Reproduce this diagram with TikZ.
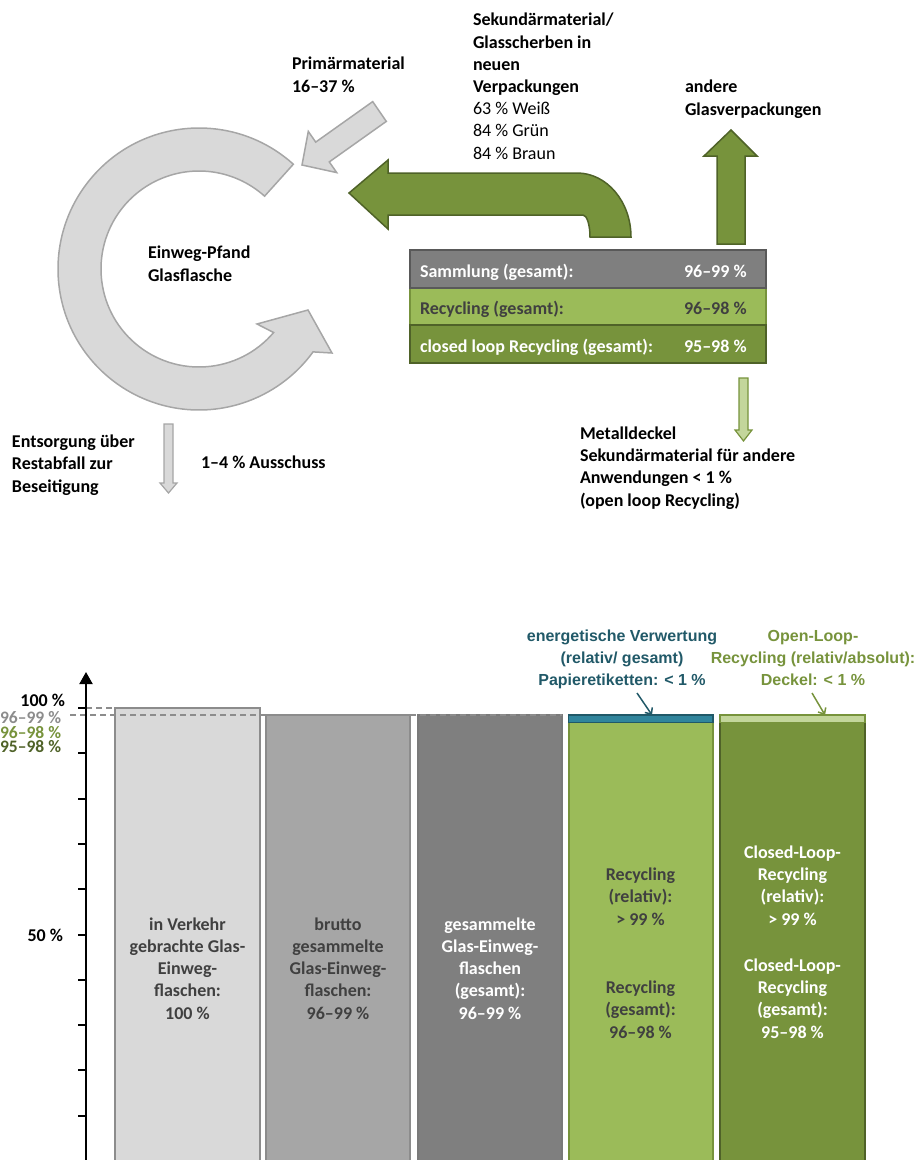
\documentclass[tikz,border=0pt]{standalone}
\usepackage{fontspec}
\setmainfont{Carlito}
\newfontfamily\arialfont{Liberation Sans}
\usetikzlibrary{arrows.meta, calc}

\definecolor{ringfill}{HTML}{D9D9D9}
\definecolor{ringdraw}{HTML}{A6A6A6}
\definecolor{grayA}{HTML}{A6A6A6}
\definecolor{grayB}{HTML}{7F7F7F}
\definecolor{grayC}{HTML}{8C8C8C}
\definecolor{grayD}{HTML}{595959}
\definecolor{textgray}{HTML}{404040}
\definecolor{olive}{HTML}{77933C}
\definecolor{olivedark}{HTML}{4F6228}
\definecolor{lime}{HTML}{9BBB59}
\definecolor{limepale}{HTML}{C3D69B}
\definecolor{teal}{HTML}{31859C}
\definecolor{tealdark}{HTML}{215968}

\begin{document}
\begin{tikzpicture}[x=1pt, y=-1pt,
    every node/.style={inner sep=0pt, outer sep=0pt},
    txt/.style={font=\fontsize{18}{22.3}\selectfont\bfseries, align=left, anchor=base west},
    bartxt/.style={font=\fontsize{18}{22.2}\selectfont\bfseries, align=center, anchor=base},
    note/.style={font=\arialfont\fontsize{16}{21.8}\selectfont\bfseries, align=center, anchor=base},
    ytick/.style={font=\fontsize{18}{20}\selectfont\bfseries, anchor=base east},
    ysmall/.style={font=\fontsize{17.5}{15}\selectfont\bfseries, anchor=base east},
    shapearrow/.style={line width=1.5pt, line join=miter},
    barbox/.style={draw, line width=2pt, anchor=north west, minimum height=470pt},
    rowbox/.style={draw, line width=2pt, anchor=north west, minimum width=356pt, minimum height=37.5pt},
    stripbox/.style={draw, line width=1.5pt, anchor=north west, minimum height=7.5pt},
    guide/.style={dash pattern=on 6pt off 4pt, draw=grayC, line width=1.5pt}
]
\useasboundingbox (0,0) rectangle (919,1160);

% --- Kreislauf oben ---
\filldraw[shapearrow, fill=ringfill, draw=ringdraw]
    ($(199,269)+(-48:141)$) arc[start angle=-48, end angle=-324, radius=141]
    -- (332,353) -- (308,310) -- (257,324)
    -- ($(199,269)+(40.4:98)$) arc[start angle=40.4, end angle=312, radius=98] -- cycle;
\filldraw[shapearrow, fill=ringfill, draw=ringdraw]
    (372.7,101.6) -- (315.7,142.1) -- (308.3,131.4) -- (302,165)
    -- (336.7,172.6) -- (329.3,161.9) -- (386.3,121.4) -- cycle;
\filldraw[shapearrow, fill=olive, draw=olivedark]
    (349,193) -- (388,160) -- (388,173) -- (577,173)
    arc[start angle=-90, end angle=0, x radius=54, y radius=64] -- (590,237)
    arc[start angle=0, end angle=-90, x radius=7, y radius=22]
    -- (388,215) -- (388,229) -- cycle;
\filldraw[shapearrow, fill=olive, draw=olivedark]
    (717,244) -- (717,156) -- (704,156) -- (731,130) -- (757,156) -- (745,156) -- (745,244) -- cycle;
\filldraw[line width=1.2pt, fill=limepale, draw=olive]
    (739,378) -- (748,378) -- (748,430) -- (752,430) -- (743.5,441) -- (735,430) -- (739,430) -- cycle;
\filldraw[line width=1.2pt, fill=ringfill, draw=ringdraw]
    (164,424) -- (173,424) -- (173,483) -- (177,483) -- (168.5,493) -- (160,483) -- (164,483) -- cycle;

\node[rowbox, fill=lime, draw=olive] (recy) at (410,287.5) {};
\node[rowbox, fill=grayB, draw=grayD] (samm) at (410,250) {};
\node[rowbox, fill=olive, draw=olivedark] (clos) at (410,325) {};
\node[txt, text=white] (sammtxt) at (420,277) {Sammlung (gesamt):};
\node[txt, text=white] (sammwert) at (684,277) {96–99 \%};
\node[txt, text=textgray] (recytxt) at (420,314) {Recycling (gesamt):};
\node[txt, text=textgray] (recywert) at (684,314) {96–98 \%};
\node[txt, text=white] (clostxt) at (420,352) {closed loop Recycling (gesamt):};
\node[txt, text=white] (closwert) at (684,352) {95–98 \%};

\node[txt] (primaer) at (292,92) {Primärmaterial\\16–37 \%};
\node[txt, font=\fontsize{18}{22.2}\selectfont] (sekundaer) at (473,159)
    {\textbf{Sekundärmaterial/}\\\textbf{Glasscherben in}\\\textbf{neuen}\\\textbf{Verpackungen}\\63 \% Weiß\\84 \% Grün\\84 \% Braun};
\node[txt] (andere) at (685,115) {andere\\Glasverpackungen};
\node[txt] (flasche) at (148,281) {Einweg-Pfand\\Glasflasche};
\node[txt] (entsorg) at (12,492) {Entsorgung über\\Restabfall zur\\Beseitigung};
\node[txt] (ausschuss) at (201,468) {1–4 \% Ausschuss};
\node[txt] (deckel) at (580,506) {Metalldeckel\\Sekundärmaterial für andere\\Anwendungen < 1 \%\\(open loop Recycling)};

% --- Saeulendiagramm unten ---
\node[barbox, fill=ringfill, draw=grayC, minimum width=145pt] (bar1) at (115,708) {};
\node[barbox, fill=grayA, draw=grayC, minimum width=144pt] (bar2) at (266,715) {};
\node[barbox, fill=grayB, draw=grayD!80, minimum width=144pt] (bar3) at (418,715) {};
\node[barbox, fill=lime, draw=olive, minimum width=144.5pt] (bar4) at (568.5,715) {};
\node[barbox, fill=olive, draw=olivedark, minimum width=145pt] (bar5) at (720,715) {};
\node[stripbox, fill=teal, draw=tealdark, minimum width=144.5pt] (etikett) at (568.5,715) {};
\node[stripbox, fill=limepale, draw=olive, minimum width=145pt] (deckelstrip) at (720,715) {};

\coordinate (guidestart) at (70,715);
\draw[guide] (86,708) -- (bar1.north west);
\draw[guide] (guidestart) -- (bar3.north east);

\draw[line width=2pt, -{Triangle[width=13pt, length=12pt]}] (86,1170) -- (86,672);
\foreach \k in {0,...,9}
    \draw[line width=2pt] (78,708+45.3*\k) -- (86,708+45.3*\k);

\node[ytick] (y100) at (65,706) {100 \%};
\node[ysmall, text=grayC] (ysamm) at (61,723) {96–99 \%};
\node[ysmall, text=olive] (yrecy) at (61,738) {96–98 \%};
\node[ysmall, text=olivedark] (yclos) at (61,752) {95–98 \%};
\node[ytick] (y50) at (63,941) {50 \%};

\node[bartxt, text=textgray] (t1) at (187.5,1019) {in Verkehr\\gebrachte Glas-\\Einweg-\\flaschen:\\100 \%};
\node[bartxt, text=textgray] (t2) at (338,1019) {brutto\\gesammelte\\Glas-Einweg-\\flaschen:\\96–99 \%};
\node[bartxt, text=white] (t3) at (490,1019) {gesammelte\\Glas-Einweg-\\flaschen\\(gesamt):\\96–99 \%};
\node[bartxt, text=textgray] (t4a) at (640.5,925) {Recycling\\(relativ):\\> 99 \%};
\node[bartxt, text=textgray] (t4b) at (640.5,1038) {Recycling\\(gesamt):\\96–98 \%};
\node[bartxt, text=white] (t5a) at (792.5,925) {Closed-Loop-\\Recycling\\(relativ):\\> 99 \%};
\node[bartxt, text=white] (t5b) at (792.5,1038) {Closed-Loop-\\Recycling\\(gesamt):\\95–98 \%};

\node[note, text=tealdark] (energ) at (622,685) {energetische Verwertung\\(relativ/ gesamt)\\Papieretiketten: < 1 \%};
\node[note, text=olive] (openloop) at (813,685) {Open-Loop-\\Recycling (relativ/absolut):\\Deckel: < 1 \%};
\coordinate (energfuss) at (637,693);
\coordinate (etikettziel) at (652,715);
\coordinate (openfuss) at (812,693);
\coordinate (deckelziel) at (825,715);
\draw[tealdark, line width=1.5pt, -{Straight Barb[length=5pt, width=9pt]}] (energfuss) -- (etikettziel);
\draw[olive, line width=1.5pt, -{Straight Barb[length=5pt, width=9pt]}] (openfuss) -- (deckelziel);
\end{tikzpicture}
\end{document}
